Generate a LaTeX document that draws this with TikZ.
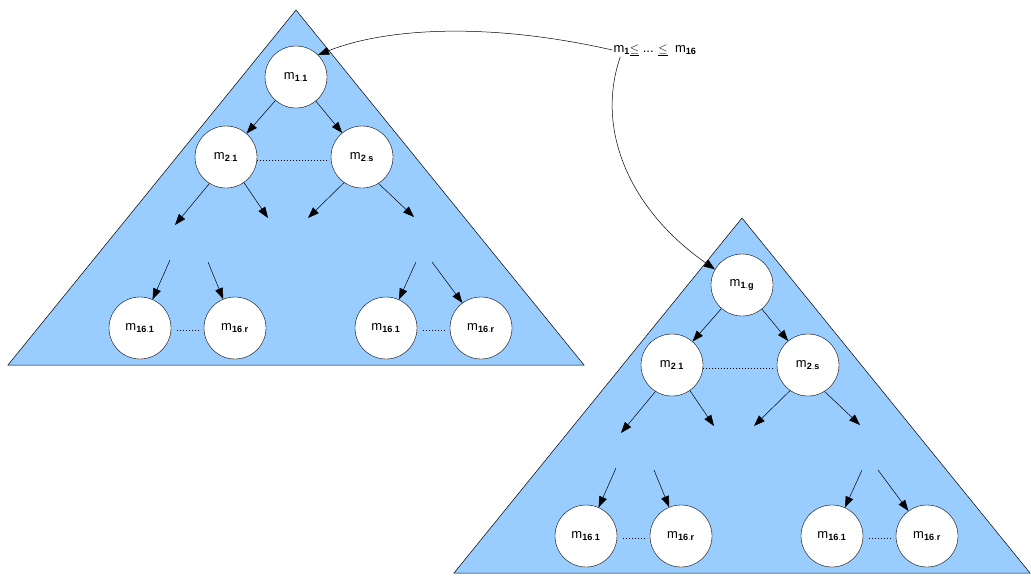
\documentclass[tikz,border=0pt]{standalone}
\usepackage{fontspec}
\setmainfont{Liberation Sans}
\usetikzlibrary{arrows.meta}
\begin{document}
\begin{tikzpicture}[x=1pt,y=-1pt,
  tri/.style={draw=black,fill={rgb,255:red,153;green,204;blue,255},line width=0.5pt},
  nd/.style={circle,draw=black,fill=white,minimum size=62pt,inner sep=0pt,font=\fontsize{13}{14}\selectfont},
  ar/.style={-{Triangle[length=11pt,width=8pt]},line width=0.5pt},
  dt/.style={dotted,line width=1pt}]
\useasboundingbox (0,0) rectangle (1031,587);
\foreach \t/\dx/\dy/\top in {A/0/0/1.1,B/446/208/1.g}{
\begin{scope}[shift={(\dx,\dy)}]
\draw[tri] (296,10) -- (584,365) -- (8,365) -- cycle;
\node[nd] (\t r) at (296,77) {m$_{\mathbf{\scriptstyle\top}}$};
\node[nd] (\t a) at (226,157) {m$_{\mathbf{\scriptstyle 2.1}}$};
\node[nd] (\t b) at (362,157) {m$_{\mathbf{\scriptstyle 2.s}}$};
\node[nd] (\t c) at (140,328) {m$_{\mathbf{\scriptstyle 16.1}}$};
\node[nd] (\t d) at (235,328) {m$_{\mathbf{\scriptstyle 16.r}}$};
\node[nd] (\t e) at (386,328) {m$_{\mathbf{\scriptstyle 16.1}}$};
\node[nd] (\t f) at (481,328) {m$_{\mathbf{\scriptstyle 16.r}}$};
\draw[ar] (\t r) -- (\t a);
\draw[ar] (\t r) -- (\t b);
\coordinate (\t 1) at (175,225); \coordinate (\t 2) at (268,218);
\coordinate (\t 3) at (308,218); \coordinate (\t 4) at (414,217);
\coordinate (\t 5) at (170,260); \coordinate (\t 6) at (208,262);
\coordinate (\t 7) at (416,262); \coordinate (\t 8) at (432,262);
\draw[ar] (\t a.-122) -- (\t 1);
\draw[ar] (\t a.-55) -- (\t 2);
\draw[ar] (\t b.-125) -- (\t 3);
\draw[ar] (\t b.-58) -- (\t 4);
\draw[ar] (\t 5) -- (\t c);
\draw[ar] (\t 6) -- (\t d);
\draw[ar] (\t 7) -- (\t e);
\draw[ar] (\t 8) -- (\t f);
\draw[dt] (\t a.east) ++(0,3) -- ++(72,0);
\draw[dt] (\t c.east) ++(6,2) -- ++(24,0);
\draw[dt] (\t e.east) ++(6,2) -- ++(24,0);
\end{scope}}
\node[font=\fontsize{13}{14}\selectfont,inner sep=1pt] (lab) at (655,50) {m$_{\mathbf{\scriptstyle 1}}$\underline{$\le$} ... \underline{$\le$}\ \ m$_{\mathbf{\scriptstyle 16}}$};
\draw[ar] (lab.west) .. controls (480,20) and (380,30) .. (Ar.45);
\draw[ar] (lab.south west) ++(8,0) .. controls (595,130) and (630,210) .. (Br.150);
\end{tikzpicture}
\end{document}
